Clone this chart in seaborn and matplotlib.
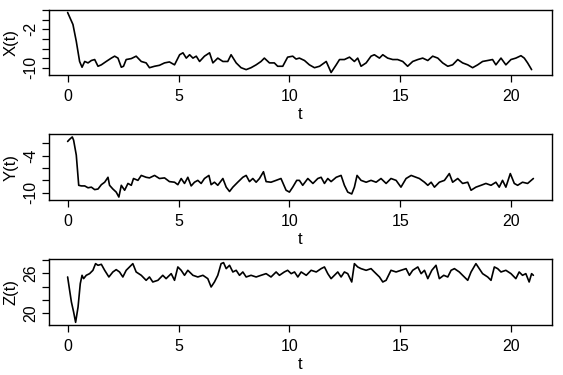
import numpy as np
import pandas as pd
import seaborn as sns
import matplotlib
matplotlib.use("Agg")
import matplotlib.pyplot as plt

# ---- data ----
t_x = [0.0, 0.24, 0.39, 0.54, 0.65, 0.77, 0.92, 1.07, 1.22, 1.37, 1.52, 1.74, 1.97, 2.12, 2.27,
       2.42, 2.52, 2.64, 2.87, 3.09, 3.32, 3.54, 3.69, 3.92, 4.14, 4.37, 4.59, 4.82, 5.05, 5.20,
       5.35, 5.50, 5.65, 5.80, 5.95, 6.17, 6.40, 6.55, 6.77, 7.00, 7.22, 7.37, 7.60, 7.82, 8.05,
       8.27, 8.50, 8.72, 8.87, 9.10, 9.32, 9.47, 9.70, 9.92, 10.15, 10.30, 10.45, 10.68, 10.90,
       11.13, 11.36, 11.66, 11.88, 12.11, 12.26, 12.48, 12.71, 12.93, 13.08, 13.23, 13.46, 13.68,
       13.83, 14.06, 14.21, 14.43, 14.66, 14.88, 15.11, 15.33, 15.56, 15.79, 16.01, 16.24, 16.46,
       16.69, 16.91, 17.14, 17.36, 17.59, 17.81, 18.04, 18.26, 18.49, 18.71, 18.94, 19.16, 19.31,
       19.54, 19.76, 19.99, 20.21, 20.44, 20.59, 20.74, 20.92]
x_vals = [1.5, -1.0, -4.5, -8.7, -9.9, -8.7, -9.0, -8.5, -8.3, -9.7, -9.4, -8.7, -8.0, -7.6, -8.0,
          -9.9, -9.7, -8.3, -8.1, -7.6, -8.7, -9.0, -10.0, -9.7, -9.5, -9.0, -8.8, -9.4, -7.3, -6.9,
          -8.0, -7.3, -8.0, -7.6, -8.7, -7.6, -6.9, -9.0, -8.0, -8.7, -8.7, -7.3, -9.0, -10.0, -10.4,
          -10.0, -9.4, -8.7, -8.0, -9.0, -9.0, -9.7, -9.7, -7.8, -7.6, -8.2, -8.0, -8.5, -9.4,
          -10.0, -9.7, -8.7, -11.0, -9.4, -8.3, -8.3, -7.8, -8.7, -8.0, -9.7, -9.0, -7.6,
          -7.3, -8.0, -7.3, -8.0, -8.3, -8.3, -8.7, -9.7, -8.7, -8.3, -8.0, -8.5, -7.6,
          -8.0, -9.0, -9.7, -9.4, -8.3, -9.0, -9.4, -10.0, -9.4, -8.7, -8.5, -8.3, -9.4,
          -8.0, -9.4, -8.3, -8.0, -7.5, -8.0, -9.0, -10.4]

t_y = [0.0, 0.09, 0.21, 0.27, 0.39, 0.50, 0.62, 0.77, 0.92, 1.07, 1.22, 1.37, 1.52, 1.67, 1.82,
       1.89, 2.04, 2.19, 2.31, 2.42, 2.57, 2.72, 2.87, 2.97, 3.17, 3.32, 3.54, 3.69, 3.92, 4.14,
       4.37, 4.59, 4.82, 4.97, 5.12, 5.27, 5.42, 5.57, 5.72, 5.87, 6.02, 6.17, 6.37, 6.47, 6.62,
       6.77, 7.00, 7.15, 7.30, 7.45, 7.67, 7.90, 8.05, 8.20, 8.35, 8.50, 8.65, 8.83, 8.95, 9.17,
       9.40, 9.62, 9.85, 10.00, 10.15, 10.33, 10.45, 10.60, 10.83, 11.06, 11.28, 11.43, 11.58,
       11.73, 11.88, 12.11, 12.33, 12.48, 12.63, 12.81, 12.93, 13.05, 13.23, 13.46, 13.68, 13.91,
       14.13, 14.36, 14.58, 14.81, 15.03, 15.26, 15.49, 15.71, 15.86, 16.09, 16.24, 16.39, 16.54,
       16.76, 16.99, 17.21, 17.36, 17.59, 17.81, 18.04, 18.19, 18.41, 18.64, 18.86, 19.09, 19.31,
       19.46, 19.61, 19.76, 19.96, 20.14, 20.29, 20.51, 20.74, 21.0]
y_vals = [-1.7, -1.35, -0.97, -1.5, -3.9, -8.8, -8.9, -8.9, -9.2, -9.1, -9.5, -9.4, -8.7, -8.3, -7.5,
          -8.8, -9.4, -9.9, -10.7, -8.8, -9.6, -8.5, -8.8, -7.7, -8.0, -7.2, -7.5, -7.6, -7.2, -7.7,
          -7.6, -8.2, -8.3, -8.7, -7.7, -8.5, -7.5, -8.9, -8.3, -8.0, -8.5, -7.7, -7.2, -8.7, -8.3,
          -8.8, -7.7, -9.1, -9.8, -9.1, -8.3, -7.5, -7.2, -8.2, -7.7, -8.3, -7.7, -6.6, -8.2, -8.3,
          -8.0, -7.7, -9.6, -9.9, -9.1, -8.0, -8.0, -8.8, -7.7, -8.5, -7.7, -7.5, -8.5,
          -7.7, -8.2, -7.5, -7.2, -8.8, -9.9, -10.2, -9.1, -7.2, -8.0, -8.3, -8.0, -8.3,
          -7.7, -8.5, -7.7, -8.0, -9.1, -7.7, -7.2, -7.5, -7.7, -8.3, -8.8, -8.3, -9.1,
          -8.3, -8.0, -6.9, -8.3, -7.7, -8.5, -8.3, -9.6, -9.1, -8.8, -8.5, -8.8, -8.3,
          -9.1, -8.0, -9.1, -6.9, -8.5, -8.8, -8.3, -8.5, -7.7]

t_z = [0.0, 0.09, 0.17, 0.27, 0.36, 0.47, 0.57, 0.65, 0.72, 0.84, 0.99, 1.14, 1.26, 1.37, 1.52,
       1.67, 1.86, 2.04, 2.19, 2.34, 2.49, 2.64, 2.79, 2.94, 3.09, 3.32, 3.54, 3.69, 3.84, 4.07,
       4.29, 4.44, 4.67, 4.82, 4.97, 5.12, 5.27, 5.42, 5.65, 5.87, 6.10, 6.32, 6.47, 6.62, 6.77,
       6.92, 7.03, 7.15, 7.30, 7.45, 7.60, 7.75, 7.90, 8.05, 8.27, 8.50, 8.72, 8.95, 9.17, 9.40,
       9.55, 9.77, 9.92, 10.08, 10.23, 10.38, 10.53, 10.76, 10.98, 11.21, 11.43, 11.58, 11.73,
       11.88, 12.03, 12.18, 12.33, 12.48, 12.63, 12.81, 12.93, 13.08, 13.23, 13.46, 13.68, 13.83,
       14.06, 14.21, 14.36, 14.58, 14.81, 15.03, 15.26, 15.41, 15.56, 15.79, 15.94, 16.09, 16.24,
       16.42, 16.61, 16.76, 16.96, 17.14, 17.29, 17.44, 17.66, 17.81, 18.04, 18.19, 18.41, 18.56,
       18.71, 18.94, 19.09, 19.24, 19.39, 19.54, 19.76, 19.99, 20.21, 20.36, 20.51, 20.66, 20.81,
       20.92, 21.0]
z_vals = [25.45, 23.45, 21.7, 20.2, 18.65, 20.95, 24.45, 25.7, 25.2, 25.7, 25.95, 26.45, 27.45, 27.2,
          27.35, 26.45, 25.45, 26.2, 26.55, 26.2, 25.45, 26.45, 26.95, 27.45, 26.2, 25.7, 24.95,
          25.45, 24.7, 24.95, 25.7, 25.2, 25.95, 24.95, 26.95, 26.45, 25.7, 26.45, 25.7, 25.45,
          25.7, 25.2, 23.95, 24.7, 25.7, 27.45, 27.6, 26.7, 27.2, 26.2, 26.45, 25.7, 26.2, 25.45,
          25.7, 25.45, 25.7, 25.95, 25.45, 26.2, 25.7, 26.2, 26.45, 25.95, 26.2, 25.45, 26.2,
          25.7, 26.45, 26.2, 26.7, 26.95, 25.95, 25.2, 25.7, 26.2, 25.45, 26.2, 25.95, 24.7,
          27.45, 26.95, 26.7, 26.45, 26.7, 26.2, 25.45, 24.7, 24.95, 26.45, 26.2, 26.45, 26.7,
          25.7, 26.45, 26.95, 25.95, 26.45, 25.2, 26.45, 27.2, 25.2, 25.7, 25.45, 26.45, 26.7,
          26.2, 25.7, 24.95, 26.2, 27.45, 26.7, 25.95, 25.45, 24.95, 26.95, 26.7, 26.2, 26.45,
          25.95, 25.2, 26.2, 25.7, 25.95, 24.7, 25.95, 25.7]

x_ticks = [-10, -8, -6, -4, -2, 0, 2]
x_tick_labels = ["-10", "", "", "", "-2", "", ""]
y_ticks = [-10, -8, -6, -4, -2]
y_tick_labels = ["-10", "", "", "-4", ""]
z_ticks = [20, 22, 24, 26, 28]
z_tick_labels = ["20", "", "", "26", ""]
t_ticks = [0, 5, 10, 15, 20]

sns.set_style("ticks")
plt.rcParams["font.family"] = ["Liberation Sans", "DejaVu Sans"]

fig = plt.figure(figsize=(5.63, 3.75), dpi=100)
W, H = 563.0, 375.0
boxes = [(10, 75), (134.3, 200), (259.3, 325)]
panels = [
    (t_x, x_vals, "X(t)", x_ticks, x_tick_labels, (-11.52, 2.02)),
    (t_y, y_vals, "Y(t)", y_ticks, y_tick_labels, (-11.18, -0.54)),
    (t_z, z_vals, "Z(t)", z_ticks, z_tick_labels, (18.25, 28.1)),
]
for (top, bot), (tt, vv, lab, yt, ytl, ylim) in zip(boxes, panels):
    ax = fig.add_axes([49 / W, 1 - bot / H, (552 - 49) / W, (bot - top) / H])
    df = pd.DataFrame({"t": tt, "v": vv})
    sns.lineplot(data=df, x="t", y="v", ax=ax, color="black", linewidth=1.2,
                 estimator=None, sort=False)
    ax.set_xlim(-0.84, 21.84)
    ax.set_ylim(*ylim)
    ax.set_xticks(t_ticks)
    ax.set_xticklabels([str(v) for v in t_ticks])
    ax.set_yticks(yt)
    ax.set_yticklabels(ytl, rotation=90, va="center")
    ax.tick_params(axis="both", labelsize=11.5, length=5, width=0.9, color="black",
                   direction="out", labelcolor="black")
    ax.tick_params(axis="x", pad=5)
    ax.tick_params(axis="y", pad=3)
    ax.set_xlabel("t", fontsize=12, labelpad=2, color="black")
    ax.set_ylabel(lab, fontsize=12, labelpad=3, color="black")
    for s in ax.spines.values():
        s.set_visible(True)
        s.set_linewidth(1.0)
        s.set_color("black")
    ax.set_facecolor("white")

fig.savefig("out.png", dpi=100, facecolor="white")
